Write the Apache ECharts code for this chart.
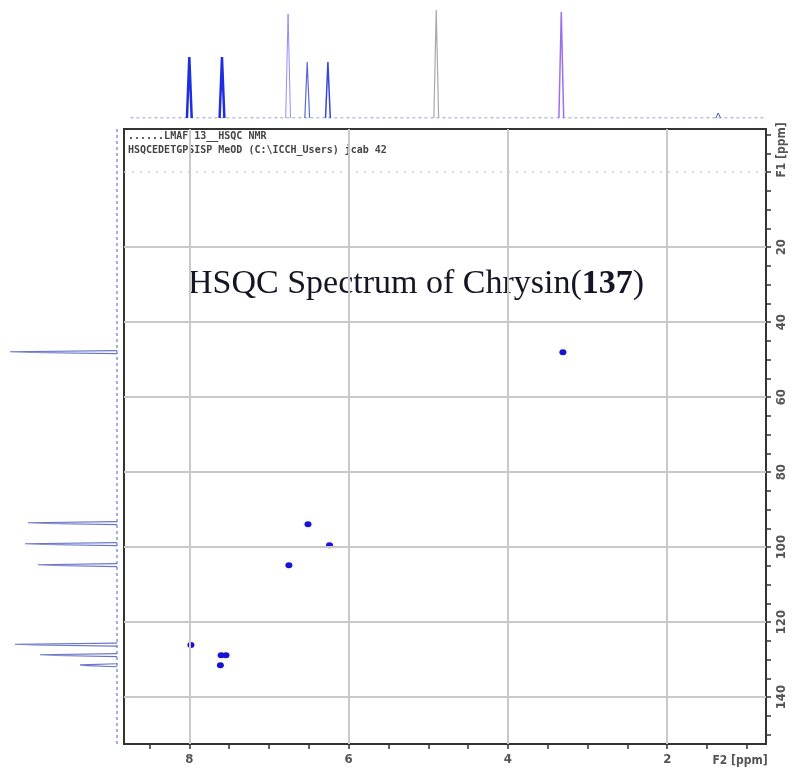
<!DOCTYPE html>
<html><head><meta charset="utf-8">
<script src="https://cdn.jsdelivr.net/npm/echarts@6/dist/echarts.min.js"></script>
<style>html,body{margin:0;padding:0;background:#fff}#c{width:796px;height:774px}</style>
</head><body><div id="c"></div><script>
// HSQC cross peaks: 1H shift (F2) and 13C shift (F1), ppm
const crossH = [3.31, 6.51, 6.24, 6.75, 7.98, 7.60, 7.54, 7.61];
const crossC = [48.0, 93.9, 99.5, 104.8, 126.1, 128.8, 128.8, 131.5];
// 1H projection on top: peak positions (ppm) and heights
const topPpm = [8.00, 7.59, 6.76, 6.52, 6.26, 4.90, 3.33, 1.36];
const topInt = [61, 61, 104, 56, 56, 108, 106, 5];
// 13C projection on left: peak positions (ppm) and heights
const leftPpm = [48.0, 93.6, 99.2, 104.8, 126.0, 128.8, 131.5];
const leftInt = [107, 89, 92, 79, 102, 77, 37];
// axis tick labels
const xTickLabels = [2, 4, 6, 8];
const yTickLabels = [20, 40, 60, 80, 100, 120, 140];
const xMinorTicks = [1, 1.5, 2, 2.5, 3, 3.5, 4, 4.5, 5, 5.5, 6, 6.5, 7, 7.5, 8, 8.5];
const yMinorTicks = [-10, -5, 0, 5, 10, 15, 20, 25, 30, 35, 40, 45, 50, 55, 60, 65, 70, 75, 80, 85, 90, 95, 100, 105, 110, 115, 120, 125, 130, 135, 140, 145, 150];
const headerLines = ['......LMAF 13__HSQC NMR', 'HSQCEDETGPSISP MeOD (C:\\ICCH_Users) jcab 42'];

// styles (kept separate from data)
const topColors = ['#1f2fe0', '#1f2fe0', '#8f8ff5', '#5a6ad0', '#3646d8', '#a8a8a8', '#9a70f0', '#4a5ab8'];
const topWidths = [2.5, 2.5, 1, 1.2, 1.5, 1.2, 1.5, 1];

const X_MIN = 0.76, X_MAX = 8.82, Y_MIN = -11.5, Y_MAX = 152.5;
const axisFont = '"DejaVu Sans Condensed", "Liberation Sans Narrow", sans-serif';

const series = [];
// gridlines + faint contour halos
series.push({
  type: 'scatter', xAxisIndex: 0, yAxisIndex: 0, silent: true,
  symbol: 'circle', symbolSize: 11,
  itemStyle: { color: 'rgba(255,220,140,0.20)' },
  data: crossH.map((h, i) => [h, crossC[i]]),
  markLine: {
    silent: true, symbol: ['none', 'none'], label: { show: false }, animation: false,
    lineStyle: { color: '#c9c9c9', width: 2, type: 'solid' },
    data: xTickLabels.map(v => ({ xAxis: v }))
      .concat(yTickLabels.map(v => ({ yAxis: v })))
      .concat([{ yAxis: 0, lineStyle: { color: '#cfcfcf', width: 1.5, type: [2, 6] } }])
  }
});
series.push({
  type: 'scatter', xAxisIndex: 0, yAxisIndex: 0, silent: true,
  symbol: 'circle', symbolSize: [7, 6],
  itemStyle: { color: '#1414d4', opacity: 1 },
  data: crossH.map((h, i) => [h, crossC[i]])
});
// top 1D baseline
series.push({
  type: 'line', xAxisIndex: 1, yAxisIndex: 1, silent: true, symbol: 'none',
  lineStyle: { color: '#7a82c8', width: 1, type: [3, 3] },
  data: [[8.74, 0], [X_MIN, 0]]
});
topPpm.forEach((p, i) => {
  series.push({
    type: 'line', xAxisIndex: 1, yAxisIndex: 1, silent: true, symbol: 'none',
    lineStyle: { color: topColors[i], width: topWidths[i] },
    data: [[p + 0.03, 0], [p, topInt[i]], [p - 0.03, 0]]
  });
});
// left 13C projection
series.push({
  type: 'line', xAxisIndex: 2, yAxisIndex: 2, silent: true, symbol: 'none',
  lineStyle: { color: '#4a5ad0', width: 1, type: [3, 3] },
  data: [[0, Y_MIN], [0, Y_MAX]]
});
leftPpm.forEach((p, i) => {
  series.push({
    type: 'line', xAxisIndex: 2, yAxisIndex: 2, silent: true, symbol: 'none',
    lineStyle: { color: '#6a74c8', width: 1.2 },
    data: [[0, p - 0.4], [leftInt[i], p - 0.1], [leftInt[i] * 0.8, p + 0.1], [0, p + 0.4]]
  });
});

const option = {
  animation: false,
  backgroundColor: '#fff',
  grid: [
    { left: 124, top: 129, width: 642, height: 615, show: true, borderColor: '#333', borderWidth: 2, backgroundColor: 'transparent' },
    { left: 124, top: 8, width: 642, height: 110 },
    { left: 0, top: 129, width: 117, height: 615 }
  ],
  xAxis: [
    {
      gridIndex: 0, type: 'value', min: X_MIN, max: X_MAX, inverse: true, position: 'bottom',
      axisLine: { show: true, onZero: false, lineStyle: { color: '#333', width: 2 } },
      axisTick: { show: true, customValues: xMinorTicks, length: 5, lineStyle: { color: '#333', width: 1.5 } },
      axisLabel: { customValues: xTickLabels, color: '#555', fontSize: 13, fontWeight: 'bold', fontFamily: axisFont, margin: 9 },
      splitLine: { show: false }
    },
    { gridIndex: 1, type: 'value', min: X_MIN, max: X_MAX, inverse: true, show: false },
    { gridIndex: 2, type: 'value', min: 0, max: 117, inverse: true, show: false }
  ],
  yAxis: [
    {
      gridIndex: 0, type: 'value', min: Y_MIN, max: Y_MAX, inverse: true, position: 'right',
      axisLine: { show: true, onZero: false, lineStyle: { color: '#333', width: 2 } },
      axisTick: { show: true, customValues: yMinorTicks, length: 5, lineStyle: { color: '#333', width: 1.5 } },
      axisLabel: { customValues: yTickLabels, rotate: 90, color: '#555', fontSize: 13, fontWeight: 'bold', fontFamily: axisFont, margin: 9 },
      splitLine: { show: false }
    },
    { gridIndex: 1, type: 'value', min: 0, max: 110, show: false },
    { gridIndex: 2, type: 'value', min: Y_MIN, max: Y_MAX, inverse: true, show: false }
  ],
  graphic: [
    { type: 'text', left: 128, top: 131, silent: true, style: { text: headerLines[0], fontFamily: '"DejaVu Sans Mono", monospace', fontSize: 10, fontWeight: 'bold', fill: '#444' } },
    { type: 'text', left: 128, top: 145, silent: true, style: { text: headerLines[1], fontFamily: '"DejaVu Sans Mono", monospace', fontSize: 10, fontWeight: 'bold', fill: '#444' } },
    {
      type: 'text', x: 188, y: 284, silent: true,
      style: {
        text: '{n|HSQC Spectrum of Chrysin}{n|(}{b|137}{n|)}',
        align: 'left', verticalAlign: 'middle',
        rich: {
          n: { fontFamily: '"Liberation Serif", "Times New Roman", serif', fontSize: 34, fill: '#151525' },
          b: { fontFamily: '"Liberation Serif", "Times New Roman", serif', fontSize: 34, fontWeight: 'bold', fill: '#151525' }
        }
      }
    },
    { type: 'text', x: 782, y: 150, rotation: Math.PI / 2, silent: true, style: { text: 'F1 [ppm]', align: 'center', verticalAlign: 'middle', fontFamily: axisFont, fontSize: 12, fontWeight: 'bold', fill: '#555' } },
    { type: 'text', x: 740, y: 761, silent: true, style: { text: 'F2 [ppm]', align: 'center', verticalAlign: 'middle', fontFamily: axisFont, fontSize: 12, fontWeight: 'bold', fill: '#555' } }
  ],
  series: series
};
const chart = echarts.init(document.getElementById('c'), null, { renderer: 'canvas' });
chart.setOption(option);
</script></body></html>
